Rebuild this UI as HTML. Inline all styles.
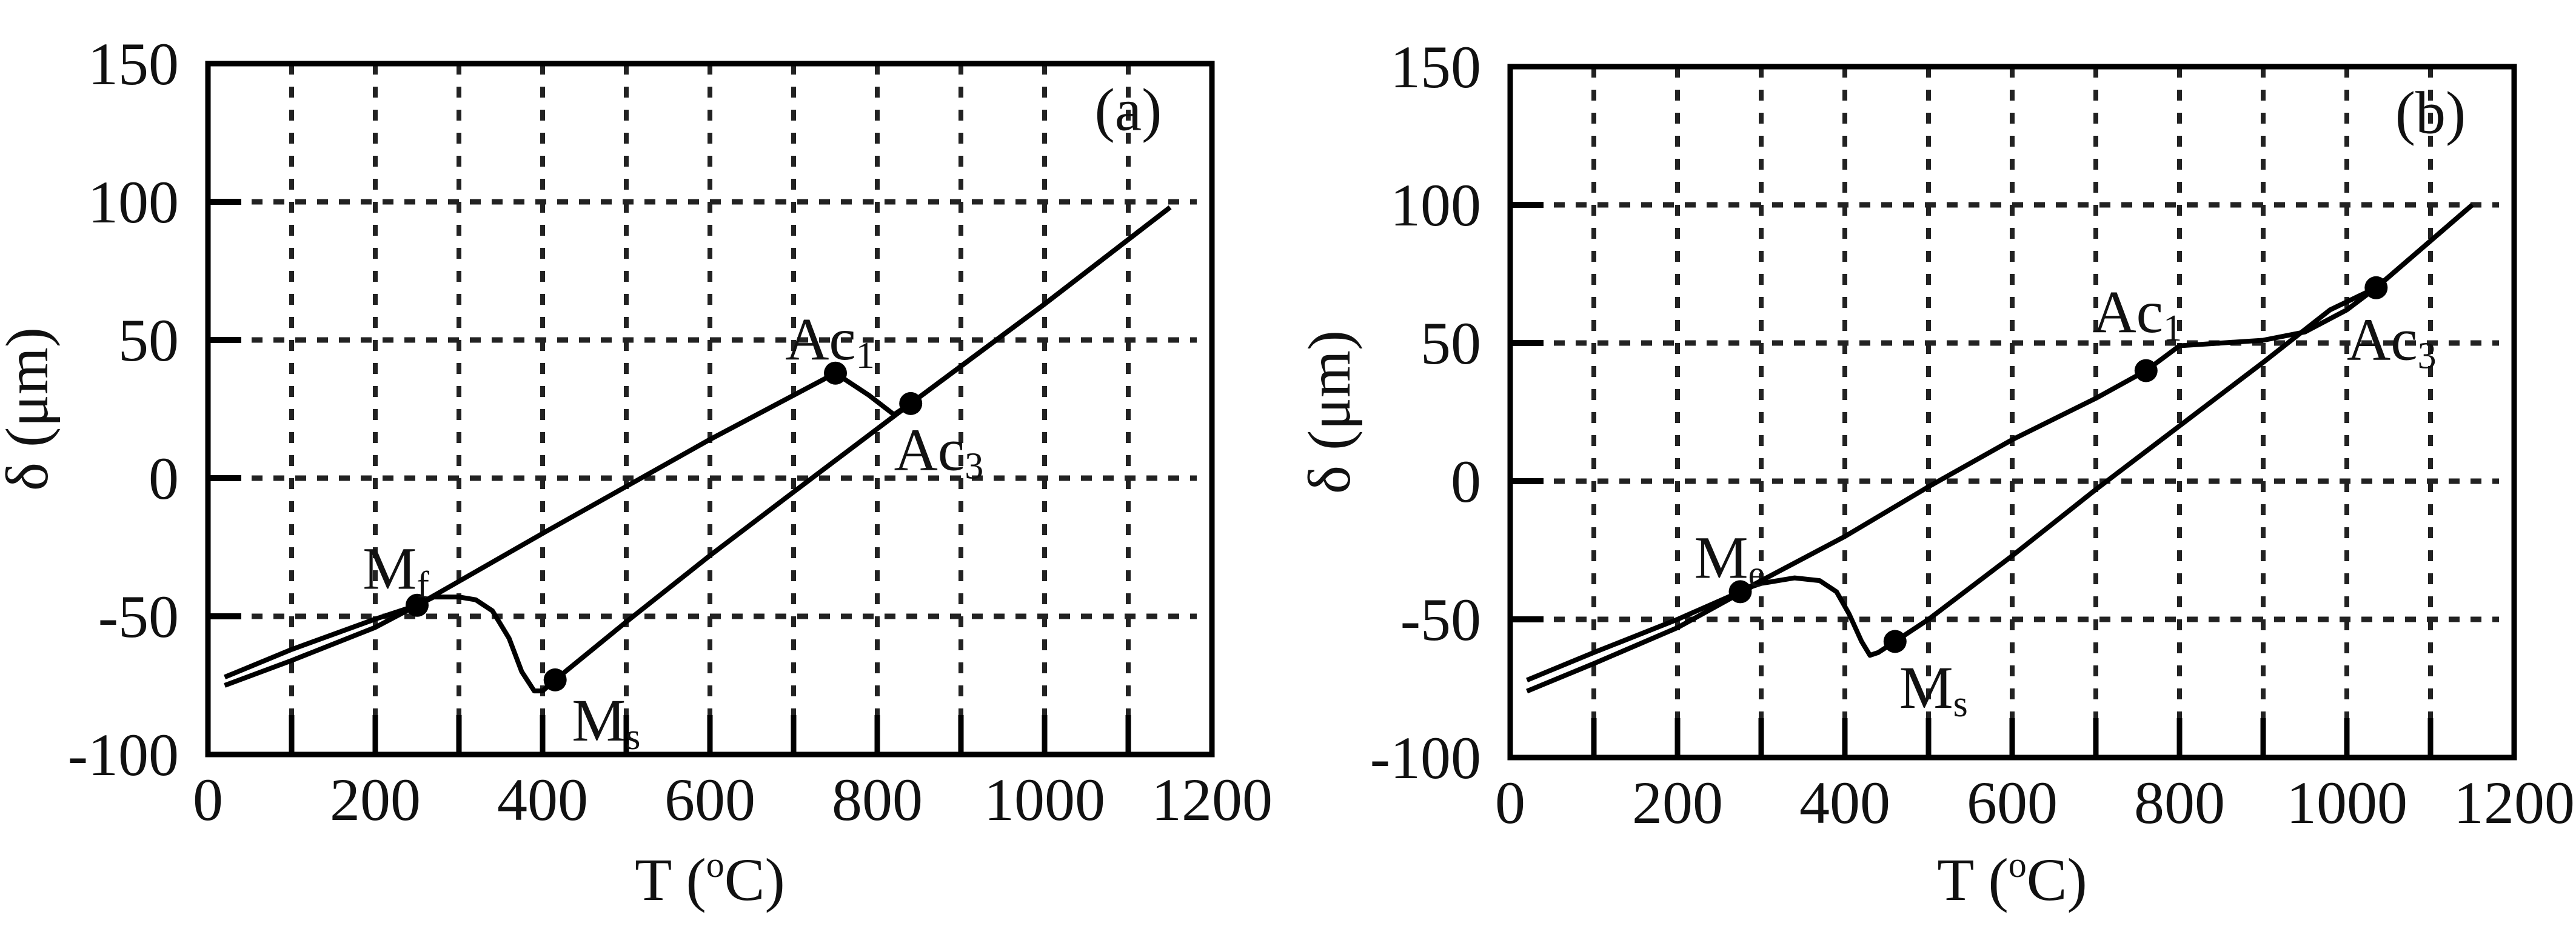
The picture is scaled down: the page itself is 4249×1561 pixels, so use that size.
<!DOCTYPE html>
<html><head><meta charset="utf-8"><style>
html,body{margin:0;padding:0;background:#fff;}
svg{display:block;}
text{font-family:"Liberation Serif",serif;fill:#111;}
</style></head><body>
<svg id="c" width="4249" height="1561" viewBox="0 0 4249 1561" xmlns="http://www.w3.org/2000/svg"></svg>
<script>
const xTicks=[0,200,400,600,800,1000,1200];
const yTicks=[150,100,50,0,-50,-100];
const xGrid=[100,200,300,400,500,600,700,800,900,1000,1100];
const yGrid=[100,50,0,-50];
// panel a
const aHeatT=[20,100,200,250,400,500,600,700,750,790,820,840,1000,1150];
const aHeatD=[-72,-62,-51,-46,-20,-3,14,30,38,30,23,27,63,98];
const aCoolT=[1150,1000,840,700,600,500,415,400,390,375,360,340,320,300,270,250,200,100,20];
const aCoolD=[98,63,27,-5,-28,-52,-73,-77,-77,-70,-58,-48,-44,-43,-43,-46,-54,-66,-75];
const aPtsT=[250,415,750,840];
const aPtsD=[-46,-73,38,27];
// panel b
const bHeatT=[20,100,200,275,400,500,600,700,760,800,850,900,950,1000,1035,1150];
const bHeatD=[-72,-62,-50,-40,-20,-2,15,30,40,49,50,51,54,62,70,100];
const bCoolT=[1150,1035,980,900,800,700,600,500,460,440,430,420,405,390,370,340,300,290,200,100,20];
const bCoolD=[100,70,62,43,20,-3,-27,-50,-58,-62,-63,-58,-48,-40,-36,-35,-37,-38,-53,-66,-76];
const bPtsT=[275,460,760,1035];
const bPtsD=[-40,-58,40,70];

const NS="http://www.w3.org/2000/svg";
const svg=document.getElementById('c');
function el(tag,attrs,parent){const e=document.createElementNS(NS,tag);for(const k in attrs)e.setAttribute(k,attrs[k]);(parent||svg).appendChild(e);return e;}

function panel(p){
  const g=el('g',{});
  
  
  const X=v=>p.l+(v-0)/1200*(p.r-p.l);
  const Y=v=>p.b-(v+100)/250*(p.b-p.t);
  xGrid.forEach(v=>{const l=el('line',{x1:X(v),x2:X(v),y1:p.t,y2:p.b,stroke:'#222','stroke-width':8,'stroke-dasharray':'18 20'},g);
    
    const t=el('line',{x1:X(v),x2:X(v),y1:p.b-65,y2:p.b,stroke:'#000','stroke-width':9},g);
    });
  yGrid.forEach(v=>{const l=el('line',{x1:p.l,x2:p.r-25,y1:Y(v),y2:Y(v),stroke:'#222','stroke-width':9,'stroke-dasharray':'18 18'},g);
    
    const t=el('line',{x1:p.l,x2:p.l+55,y1:Y(v),y2:Y(v),stroke:'#000','stroke-width':10},g);
    });
  const fr=el('rect',{x:p.l,y:p.t,width:p.r-p.l,height:p.b-p.t,fill:'none',stroke:'#000','stroke-width':9},g);
  
  xTicks.forEach(v=>{const t=el('text',{x:X(v),y:p.b+108,'text-anchor':'middle','font-size':100},g);t.textContent=v;
    });
  yTicks.forEach(v=>{const t=el('text',{x:p.l-48,y:Y(v)+34,'text-anchor':'end','font-size':100},g);t.textContent=v;
    });
  const xt=el('text',{x:(p.l+p.r)/2,y:1485,'text-anchor':'middle','font-size':100},g);
  xt.innerHTML='T (<tspan font-size="60" dy="-38">o</tspan><tspan dy="38">C)</tspan>';
  
  const yt=el('text',{x:0,y:0,'text-anchor':'middle','font-size':100,transform:`translate(${p.l-265},${(p.t+p.b)/2}) rotate(-90)`},g);
  yt.textContent='δ (μm)';
  
  const pl=(T,D,name)=>{const s=el('polyline',{points:T.map((t,i)=>X(t)+','+Y(D[i])).join(' '),fill:'none',stroke:'#000','stroke-width':8,'stroke-linejoin':'round'},g);
    };
  pl(p.hT,p.hD,'heating-curve');pl(p.cT,p.cD,'cooling-curve');
  p.pT.forEach((t,i)=>{const c=el('circle',{cx:X(t),cy:Y(p.pD[i]),r:19,fill:'#000'},g);
    });
  p.labels.forEach(L=>{const t=el('text',{x:X(L[1]),y:Y(L[2]),'font-size':100},g);
    t.innerHTML=L[0]+'<tspan font-size="62" dy="14">'+L[3]+'</tspan>';
    });
  const pa=el('text',{x:X(1100),y:Y(126),'text-anchor':'middle','font-size':100},g);
  pa.textContent='('+p.id+')';
  
}
panel({id:'a',l:343,r:1999,t:105,b:1245,hT:aHeatT,hD:aHeatD,cT:aCoolT,cD:aCoolD,pT:aPtsT,pD:aPtsD,
  labels:[['M',185,-40,'f'],['M',435,-95,'s'],['Ac',690,43,'1'],['Ac',820,3,'3']]});
panel({id:'b',l:2491,r:4147,t:110,b:1250,hT:bHeatT,hD:bHeatD,cT:bCoolT,cD:bCoolD,pT:bPtsT,pD:bPtsD,
  labels:[['M',220,-35,'e'],['M',465,-82,'s'],['Ac',696,54,'1'],['Ac',1000,44,'3']]});
</script>
</body></html>
